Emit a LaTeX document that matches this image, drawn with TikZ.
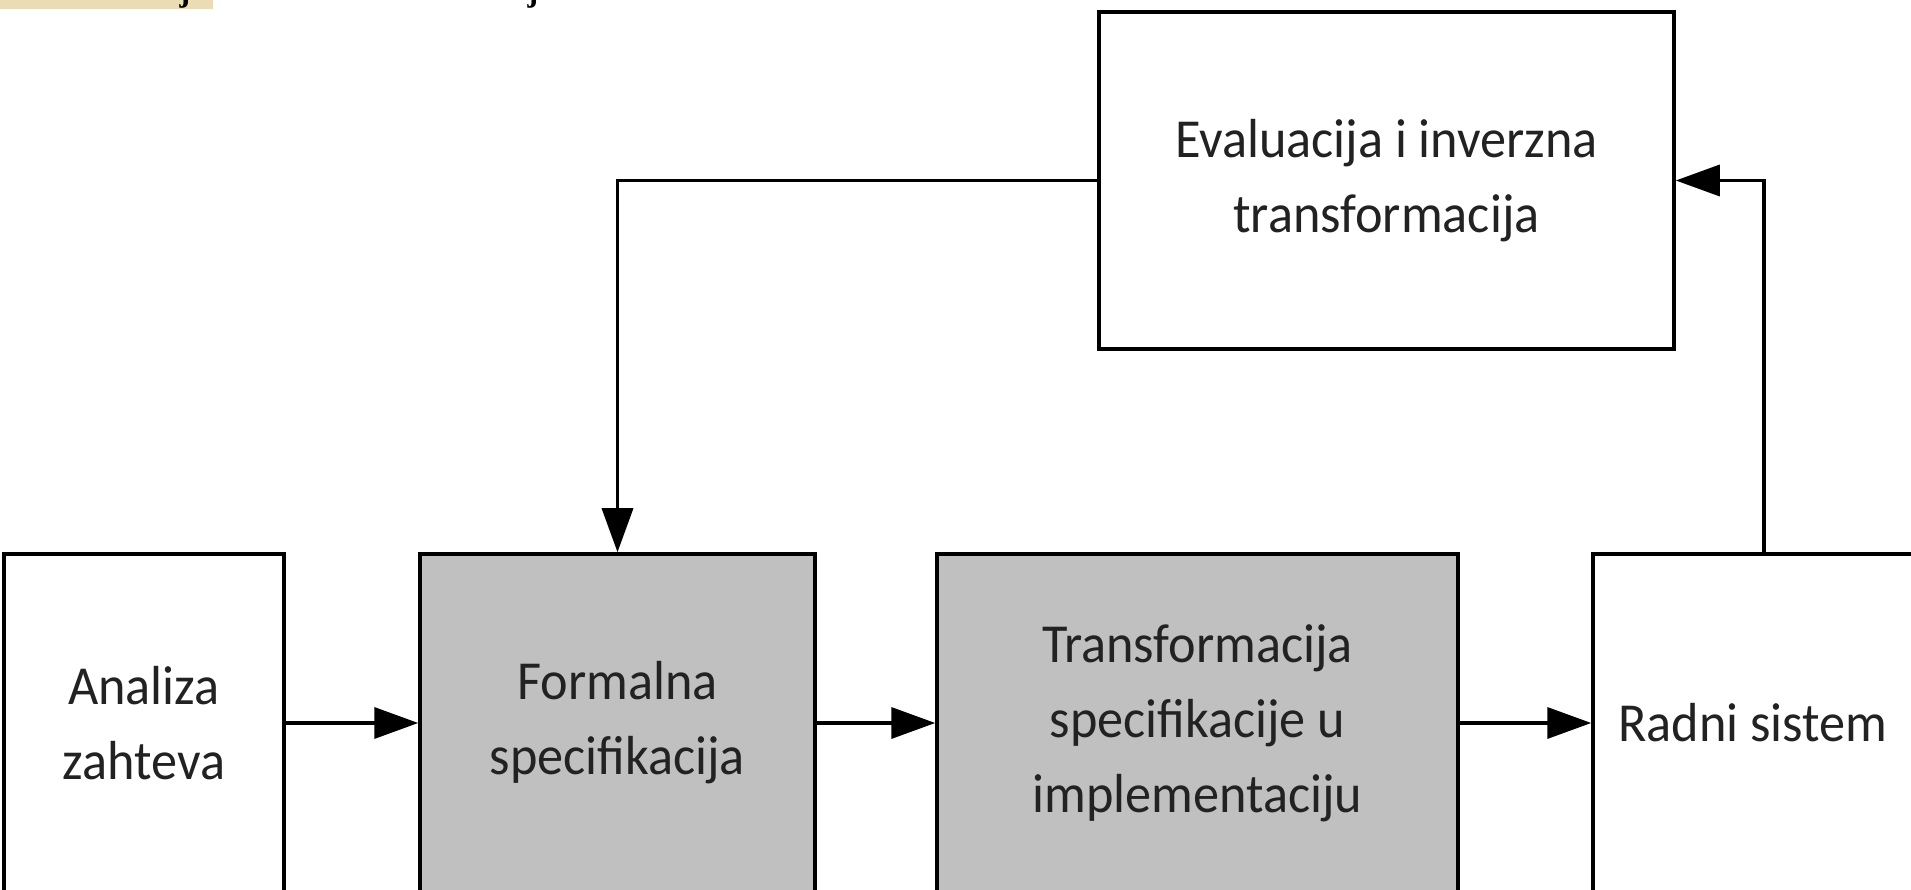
\documentclass[tikz,border=0pt]{standalone}
\usepackage{fontspec}
\setmainfont{Carlito}[FakeStretch=0.95]
\newfontfamily\jfont{Liberation Serif}
\usetikzlibrary{arrows.meta,positioning}
\definecolor{boxgray}{HTML}{C0C0C0}
\definecolor{strip}{HTML}{EBDCB4}
\definecolor{txt}{HTML}{222222}
\tikzset{
  blk/.style={draw=black, line width=3.5pt, align=center, inner sep=0pt,
    font=\fontsize{55}{75}\selectfont, text=txt},
  grayblk/.style={blk, fill=boxgray},
  conn/.style={line width=3.5pt, draw=black, -{Triangle[length=44pt,width=31pt]}},
}
\begin{document}
\begin{tikzpicture}[x=1pt,y=1pt]
\useasboundingbox (0,0) rectangle (1911,889);
\fill[white] (0,0) rectangle (1911,889);
% cut-off strip of a previous figure at the top edge
\fill[strip] (0,880) rectangle (213,889);
\node[anchor=base, font=\jfont\bfseries\fontsize{32}{32}\selectfont, inner sep=0pt] (j1) at (185,887) {j};
\node[anchor=base, font=\jfont\bfseries\fontsize{32}{32}\selectfont, inner sep=0pt] (j2) at (533,887) {j};
% boxes
\node[blk, minimum width=575pt, minimum height=337pt] (eval) at (1386.5,708.5) {Evaluacija i inverzna\\transformacija};
\node[blk, minimum width=280pt, minimum height=338pt] (ana) at (144,166) {Analiza\\zahteva};
\node[grayblk, minimum width=395pt, minimum height=338pt] (form) at (617.5,166) {Formalna\\specifikacija};
\node[grayblk, minimum width=521pt, minimum height=338pt] (trans) at (1197.5,166) {Transformacija\\specifikacije u\\implementaciju};
\node[blk, minimum width=320pt, minimum height=338pt] (radni) at (1753,166) {Radni sistem};
% connectors
\draw[conn] (ana.east) -- (form.west);
\draw[conn] (form.east) -- (trans.west);
\draw[conn] (trans.east) -- (radni.west);
\draw[conn] (eval.west) -| (form.north);
\draw[conn] ([xshift=11pt]radni.north) |- (eval.east);
\end{tikzpicture}
\end{document}
